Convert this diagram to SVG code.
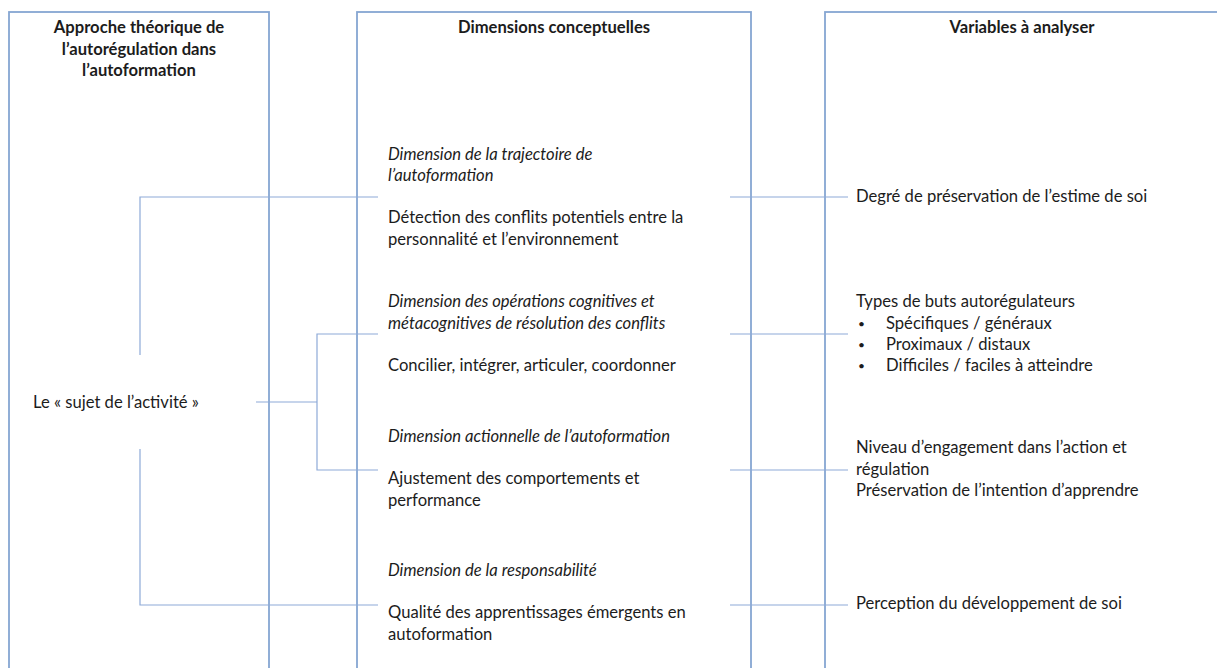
<svg xmlns="http://www.w3.org/2000/svg" width="1217" height="668" viewBox="0 0 1217 668">
<style>
.box{fill:none;stroke:#86a6d2;stroke-width:1.8}
.con{fill:none;stroke:#8eaad8;stroke-width:1.2}
text{font-family:Lato,"Liberation Sans",sans-serif;font-size:16.6px;fill:#1c1c1c}
.h{font-weight:bold;text-anchor:middle}
.i{font-style:italic}
.b{font-size:12px}
</style>
<rect width="1217" height="668" fill="#ffffff"/>
<g id="col-approche">
<rect class="box" x="9" y="12" width="260" height="700"/>
<text class="h" x="139" y="33">Approche théorique de</text>
<text class="h" x="139" y="54.5">l’autorégulation dans</text>
<text class="h" x="139" y="76">l’autoformation</text>
</g>
<g id="col-dimensions">
<rect class="box" x="357" y="12" width="394" height="700"/>
<text class="h" x="554" y="33">Dimensions conceptuelles</text>
</g>
<g id="col-variables">
<rect class="box" x="825" y="12" width="400" height="700"/>
<text class="h" x="1022" y="33">Variables à analyser</text>
</g>
<g id="node-sujet">
<text x="33" y="408">Le « sujet de l’activité »</text>
</g>
<g id="node-dim-trajectoire">
<text class="i" x="388" y="160">Dimension de la trajectoire de</text>
<text class="i" x="388" y="181">l’autoformation</text>
<text x="388" y="223">Détection des conflits potentiels entre la</text>
<text x="388" y="245">personnalité et l’environnement</text>
</g>
<g id="node-dim-operations">
<text class="i" x="388" y="307">Dimension des opérations cognitives et</text>
<text class="i" x="388" y="329">métacognitives de résolution des conflits</text>
<text x="388" y="371">Concilier, intégrer, articuler, coordonner</text>
</g>
<g id="node-dim-actionnelle">
<text class="i" x="388" y="442">Dimension actionnelle de l’autoformation</text>
<text x="388" y="484">Ajustement des comportements et</text>
<text x="388" y="506">performance</text>
</g>
<g id="node-dim-responsabilite">
<text class="i" x="388" y="576">Dimension de la responsabilité</text>
<text x="388" y="618">Qualité des apprentissages émergents en</text>
<text x="388" y="640">autoformation</text>
</g>
<g id="node-var-estime">
<text x="856" y="202">Degré de préservation de l’estime de soi</text>
</g>
<g id="node-var-buts">
<text x="856" y="307">Types de buts autorégulateurs</text>
<text class="b" x="858" y="328">•</text><text x="886" y="329">Spécifiques / généraux</text>
<text class="b" x="858" y="349">•</text><text x="886" y="350">Proximaux / distaux</text>
<text class="b" x="858" y="370">•</text><text x="886" y="371">Difficiles / faciles à atteindre</text>
</g>
<g id="node-var-engagement">
<text x="856" y="453">Niveau d’engagement dans l’action et</text>
<text x="856" y="475">régulation</text>
<text x="856" y="496">Préservation de l’intention d’apprendre</text>
</g>
<g id="node-var-perception">
<text x="856" y="609">Perception du développement de soi</text>
</g>
<g id="connectors">
<path class="con" d="M378,197 H140 V355"/>
<path class="con" d="M140,449 V605 H378"/>
<path class="con" d="M256,402 H317"/>
<path class="con" d="M378,334 H317 V470 H378"/>
<path class="con" d="M730,197 H848"/>
<path class="con" d="M730,334 H848"/>
<path class="con" d="M730,470 H848"/>
<path class="con" d="M730,605 H848"/>
</g>
</svg>
